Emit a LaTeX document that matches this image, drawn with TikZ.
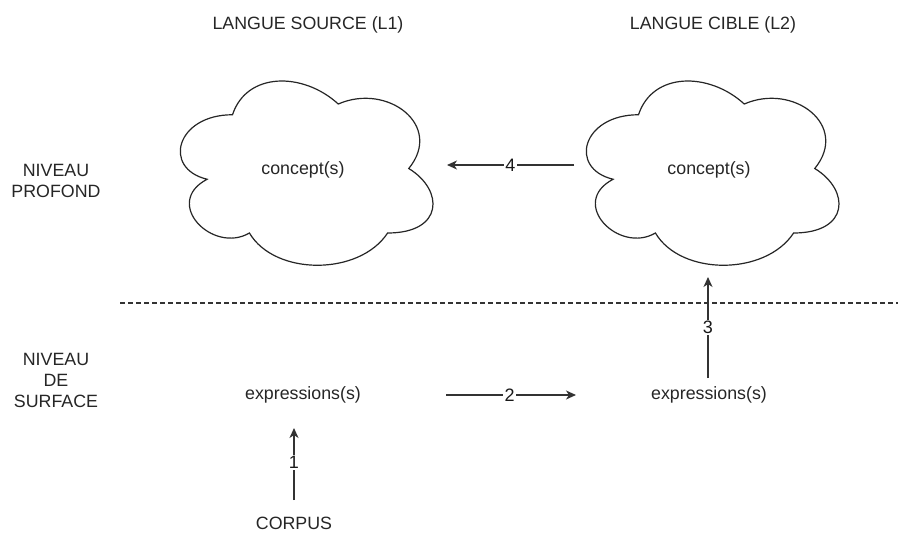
\documentclass[tikz,border=0pt]{standalone}
\usepackage{fontspec}
\setmainfont{Liberation Sans}
\usetikzlibrary{arrows.meta}
\tikzset{
  txt/.style={font=\fontsize{17.8}{21}\selectfont, align=center, inner sep=0pt, text=black!85},
  arr/.style={-{Stealth[length=10pt,width=9pt,inset=3pt]}, line width=1.1pt, draw=black!80},
  lbl/.style={fill=white, inner sep=1.5pt, font=\fontsize{18}{21}\selectfont, text=black!90},
  cloudline/.style={line width=1.2pt, draw=black!85},
  sep/.style={dash pattern=on 5pt off 3pt, line width=1.1pt, draw=black!80},
  cloudpic/.pic={
    \draw[cloudline] (0.25,0.25) .. controls (0.05,0.25) and (0,0.5) .. (0.16,0.55)
      .. controls (0,0.66) and (0.18,0.9) .. (0.31,0.8)
      .. controls (0.4,1) and (0.7,1) .. (0.8,0.8)
      .. controls (1,0.8) and (1,0.6) .. (0.875,0.5)
      .. controls (1,0.3) and (0.8,0.1) .. (0.625,0.2)
      .. controls (0.5,0.05) and (0.3,0.05) .. (0.25,0.25) -- cycle;
  }
}
\begin{document}
\begin{tikzpicture}[x=1pt,y=-1pt]
\useasboundingbox[fill=white] (0,0) rectangle (898,538);

% headers
\node[txt] (h1) at (308,25) {LANGUE SOURCE (L1)};
\node[txt] (h2) at (713,25) {LANGUE CIBLE (L2)};
\node[txt] (np) at (56,181) {NIVEAU\\PROFOND};
\node[txt] (ns) at (56,380) {NIVEAU\\DE\\SURFACE};

% clouds
\begin{scope}[shift={(162,61)}, x=282pt, y=-215pt]
  \pic {cloudpic};
\end{scope}
\begin{scope}[shift={(568,61)}, x=282pt, y=-215pt]
  \pic {cloudpic};
\end{scope}
\node[txt] (c1) at (303,170) {concept(s)};
\node[txt] (c2) at (709,170) {concept(s)};

% separator
\coordinate (sepL) at (120,303);
\coordinate (sepR) at (898,303);
\draw[sep] (sepL) -- (sepR);

% surface level
\node[txt] (e1) at (303,395) {expressions(s)};
\node[txt] (e2) at (709,395) {expressions(s)};
\node[txt] (corpus) at (294,523) {CORPUS};

% anchor points on cloud borders
\coordinate (c1r) at (447,165);
\coordinate (c2l) at (574,165);
\coordinate (c2b) at (708,277);
\coordinate (e1r) at (446,395);
\coordinate (e2l) at (576,395);
\coordinate (e2t) at (708,378);
\coordinate (e1b) at (294,428);
\coordinate (cot) at (294,500);

% connectors
\draw[arr] (cot) -- node[lbl, pos=0.52] {1} (e1b);
\draw[arr] (e1r) -- node[lbl, pos=0.49] {2} (e2l);
\draw[arr] (e2t) -- node[lbl, pos=0.5] {3} (c2b);
\draw[arr] (c2l) -- node[lbl, pos=0.5] {4} (c1r);
\end{tikzpicture}
\end{document}
